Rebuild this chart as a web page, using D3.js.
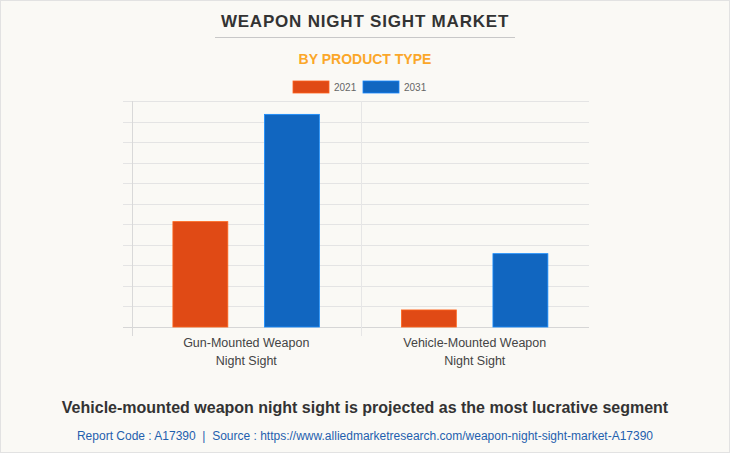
<!DOCTYPE html>
<html>
<head>
<meta charset="utf-8">
<script src="https://cdn.jsdelivr.net/npm/d3@7"></script>
<style>
  html, body { margin: 0; padding: 0; background: #faf9f5; }
  svg { display: block; font-family: "Liberation Sans", Arial, sans-serif; }
</style>
</head>
<body>
<div id="chart"></div>
<script>
// données (unités relatives)
const categories = ['Gun-Mounted Weapon|Night Sight', 'Vehicle-Mounted Weapon|Night Sight'];
const series = ['2021', '2031'];
const values2021 = [513, 83];
const values2031 = [1035, 357];
const yTicks = [0, 100, 200, 300, 400, 500, 600, 700, 800, 900, 1000, 1100];
const colors = ['#e04a15', '#1166c0'];

const W = 730, H = 453;
const margin = { top: 101, right: 141, bottom: 126, left: 132 };
const width = W - margin.left - margin.right;
const height = H - margin.top - margin.bottom;

const svg = d3.select('#chart').append('svg')
    .attr('width', W)
    .attr('height', H);

svg.append('rect')
    .attr('x', 0.5).attr('y', 0.5)
    .attr('width', W - 1).attr('height', H - 1)
    .attr('fill', '#faf9f5')
    .attr('stroke', '#e2e2e2');

// titre
svg.append('text')
    .attr('x', W / 2).attr('y', 27)
    .attr('text-anchor', 'middle')
    .attr('font-size', 17).attr('font-weight', 'bold')
    .attr('letter-spacing', 0.8)
    .attr('fill', '#333')
    .text('WEAPON NIGHT SIGHT MARKET');

svg.append('line')
    .attr('x1', 215).attr('x2', 515)
    .attr('y1', 37.5).attr('y2', 37.5)
    .attr('stroke', '#c8c8c8');

svg.append('text')
    .attr('x', W / 2).attr('y', 64)
    .attr('text-anchor', 'middle')
    .attr('font-size', 14).attr('font-weight', 'bold')
    .attr('fill', '#fba729')
    .text('BY PRODUCT TYPE');

// légende
const legend = svg.append('g').attr('transform', 'translate(293,81)');
series.forEach((s, i) => {
    const g = legend.append('g').attr('transform', `translate(${i * 70},0)`);
    g.append('rect')
        .attr('width', 36).attr('height', 12)
        .attr('fill', colors[i])
        .attr('stroke', d3.color(colors[i]).brighter(0.8))
        .attr('stroke-width', 0.8);
    g.append('text')
        .attr('x', 41).attr('y', 10)
        .attr('font-size', 10)
        .attr('fill', '#666')
        .text(s);
});

const plot = svg.append('g')
    .attr('transform', `translate(${margin.left},${margin.top})`);

const x0 = d3.scaleBand()
    .domain(categories)
    .range([0, width])
    .padding(0);

const x1 = d3.scaleBand()
    .domain(series)
    .range([x0.bandwidth() * 0.179, x0.bandwidth() * 0.82])
    .paddingInner(0.4)
    .paddingOuter(0);

const y = d3.scaleLinear()
    .domain([0, 1100])
    .range([height, 0]);

// grille horizontale
plot.append('g')
    .selectAll('line')
    .data(yTicks)
    .enter()
    .append('line')
    .attr('x1', -9).attr('x2', width)
    .attr('y1', d => Math.round(y(d)) + 0.5)
    .attr('y2', d => Math.round(y(d)) + 0.5)
    .attr('stroke', d => d === 0 ? '#d6d6d6' : '#e4e4e4');

// séparateurs verticaux
plot.append('g')
    .selectAll('line')
    .data([0, x0.bandwidth()])
    .enter()
    .append('line')
    .attr('x1', d => Math.round(d) + 0.5).attr('x2', d => Math.round(d) + 0.5)
    .attr('y1', 0).attr('y2', height + 9)
    .attr('stroke', d => d === 0 ? '#d9d9d9' : '#e6e6e6');

// barres
const data = categories.map((c, i) => ({ cat: c, vals: [values2021[i], values2031[i]] }));

const groups = plot.selectAll('.grp')
    .data(data)
    .enter()
    .append('g')
    .attr('transform', d => `translate(${x0(d.cat)},0)`);

groups.selectAll('rect')
    .data(d => d.vals.map((v, i) => ({ key: series[i], v, i })))
    .enter()
    .append('rect')
    .attr('x', d => x1(d.key))
    .attr('y', d => y(d.v))
    .attr('width', x1.bandwidth())
    .attr('height', d => y(0) - y(d.v))
    .attr('fill', d => colors[d.i])
    .attr('stroke', d => d3.color(colors[d.i]).brighter(0.9))
    .attr('stroke-width', 0.8);

// étiquettes de catégories
const labels = plot.selectAll('.lbl')
    .data(categories)
    .enter()
    .append('text')
    .attr('text-anchor', 'middle')
    .attr('font-size', 12.5)
    .attr('fill', '#444');

labels.each(function (d) {
    const parts = d.split('|');
    const t = d3.select(this);
    parts.forEach((p, i) => {
        t.append('tspan')
            .attr('x', x0(d) + x0.bandwidth() / 2)
            .attr('y', height + 19.5 + i * 18.5)
            .text(p);
    });
});

// texte du bas
svg.append('text')
    .attr('x', W / 2).attr('y', 413)
    .attr('text-anchor', 'middle')
    .attr('font-size', 16).attr('font-weight', 'bold')
    .attr('fill', '#333')
    .text('Vehicle-mounted weapon night sight is projected as the most lucrative segment');

svg.append('text')
    .attr('x', W / 2).attr('y', 440)
    .attr('text-anchor', 'middle')
    .attr('font-size', 12)
    .attr('fill', '#1f5fae')
    .attr('xml:space', 'preserve')
    .text('Report Code : A17390  |  Source : https://www.alliedmarketresearch.com/weapon-night-sight-market-A17390');
</script>
</body>
</html>
